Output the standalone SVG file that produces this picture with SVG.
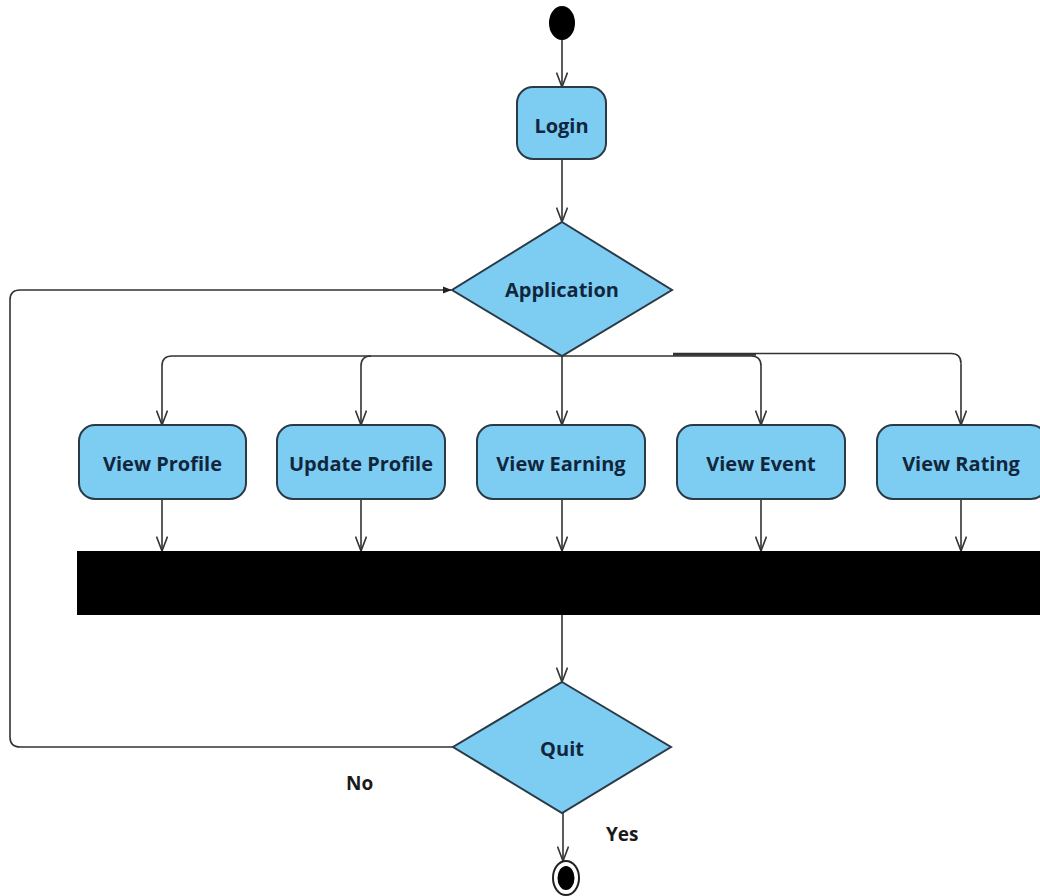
<svg xmlns="http://www.w3.org/2000/svg" width="1040" height="896" viewBox="0 0 1040 896">
  <defs>
    <marker id="open" viewBox="0 0 16 12" refX="15" refY="6" markerWidth="16" markerHeight="12" markerUnits="userSpaceOnUse" orient="auto">
      <path d="M0.5 0.5 L15 6 L0.5 11.5" fill="none" stroke="#333" stroke-width="1.6"/>
    </marker>
    <marker id="solid" viewBox="0 0 10 10" refX="9" refY="5" markerWidth="9" markerHeight="9" markerUnits="userSpaceOnUse" orient="auto">
      <path d="M0 1 L10 5 L0 9 Z" fill="#222"/>
    </marker>
  </defs>
  <style>
    .act { fill: #7dcdf2; stroke: #2b3a47; stroke-width: 2; }
    .dec { fill: #7dcdf2; stroke: #2b3a47; stroke-width: 2; }
    .lbl { font-family: "Open Sans", "Noto Sans", sans-serif; font-weight: 700; font-size: 20px; fill: #11263d; text-anchor: middle; dominant-baseline: central; }
    .guard { font-family: "Open Sans", "Noto Sans", sans-serif; font-weight: 700; font-size: 19px; fill: #1a1a1a; }
    .flow { fill: none; stroke: #333; stroke-width: 1.6; }
    .flowd { fill: none; stroke: #333; stroke-width: 1.6; marker-end: url(#open); }
  </style>
  <rect width="1040" height="896" fill="#ffffff"/>

  <!-- connectors -->
  <g id="connectors">
    <path class="flowd" d="M562 39 V87"/>
    <path class="flowd" d="M562 159 V222"/>
    <!-- fork out of Application -->
    <path class="flow" d="M562 356 H172 Q162 356 162 366"/>
    <path class="flowd" d="M162 366 V425"/>
    <path class="flow" d="M371 356 Q361 356 361 366"/>
    <path class="flowd" d="M361 366 V425"/>
    <path class="flowd" d="M562 356 V425"/>
    <path class="flow" d="M562 356 H751 Q761 356 761 366"/>
    <path class="flowd" d="M761 366 V425"/>
    <path class="flow" d="M673 353.5 H951 Q961 353.5 961 363.5"/>
    <path class="flowd" d="M961 363.5 V425"/>
    <path d="M673 354.5 H756" stroke="#333" stroke-width="2.6" fill="none"/>
    <!-- into the join bar -->
    <path class="flowd" d="M162 499 V551"/>
    <path class="flowd" d="M361 499 V551"/>
    <path class="flowd" d="M562 499 V551"/>
    <path class="flowd" d="M761 499 V551"/>
    <path class="flowd" d="M961 499 V551"/>
    <!-- join to Quit -->
    <path class="flowd" d="M562 615 V682"/>
    <!-- No loop back to Application -->
    <path class="flow" d="M453 747 H20 Q10 747 10 737 V300 Q10 290 20 290 H451" marker-end="url(#solid)"/>
    <!-- Yes to final -->
    <path class="flowd" d="M563 813 V861"/>
  </g>

  <g id="start">
    <ellipse cx="562" cy="23" rx="13" ry="17" fill="#000"/>
  </g>

  <g id="login">
    <rect class="act" x="517" y="87" width="89" height="72" rx="16"/>
    <text class="lbl" x="561.5" y="125">Login</text>
  </g>

  <g id="application">
    <polygon class="dec" points="562,222 672,290 562,356 452,290"/>
    <text class="lbl" x="562" y="289">Application</text>
  </g>

  <g id="view-profile">
    <rect class="act" x="79" y="425" width="167" height="74" rx="16"/>
    <text class="lbl" x="162.5" y="463">View Profile</text>
  </g>
  <g id="update-profile">
    <rect class="act" x="277" y="425" width="168" height="74" rx="16"/>
    <text class="lbl" x="361" y="463">Update Profile</text>
  </g>
  <g id="view-earning">
    <rect class="act" x="477" y="425" width="168" height="74" rx="16"/>
    <text class="lbl" x="561" y="463">View Earning</text>
  </g>
  <g id="view-event">
    <rect class="act" x="677" y="425" width="168" height="74" rx="16"/>
    <text class="lbl" x="761" y="463">View Event</text>
  </g>
  <g id="view-rating">
    <rect class="act" x="877" y="425" width="170" height="74" rx="16"/>
    <text class="lbl" x="961" y="463">View Rating</text>
  </g>

  <g id="join-bar">
    <rect x="77" y="551" width="963" height="64" fill="#000"/>
  </g>

  <g id="quit">
    <polygon class="dec" points="562,682 671,747 562,813 453,747"/>
    <text class="lbl" x="562" y="748">Quit</text>
  </g>

  <g id="guards">
    <text class="guard" x="346" y="790">No</text>
    <text class="guard" x="606" y="841">Yes</text>
  </g>

  <g id="end">
    <ellipse cx="566" cy="878" rx="13" ry="17" fill="#fff" stroke="#222" stroke-width="2"/>
    <ellipse cx="566" cy="878" rx="8.5" ry="12" fill="#000"/>
  </g>
</svg>
